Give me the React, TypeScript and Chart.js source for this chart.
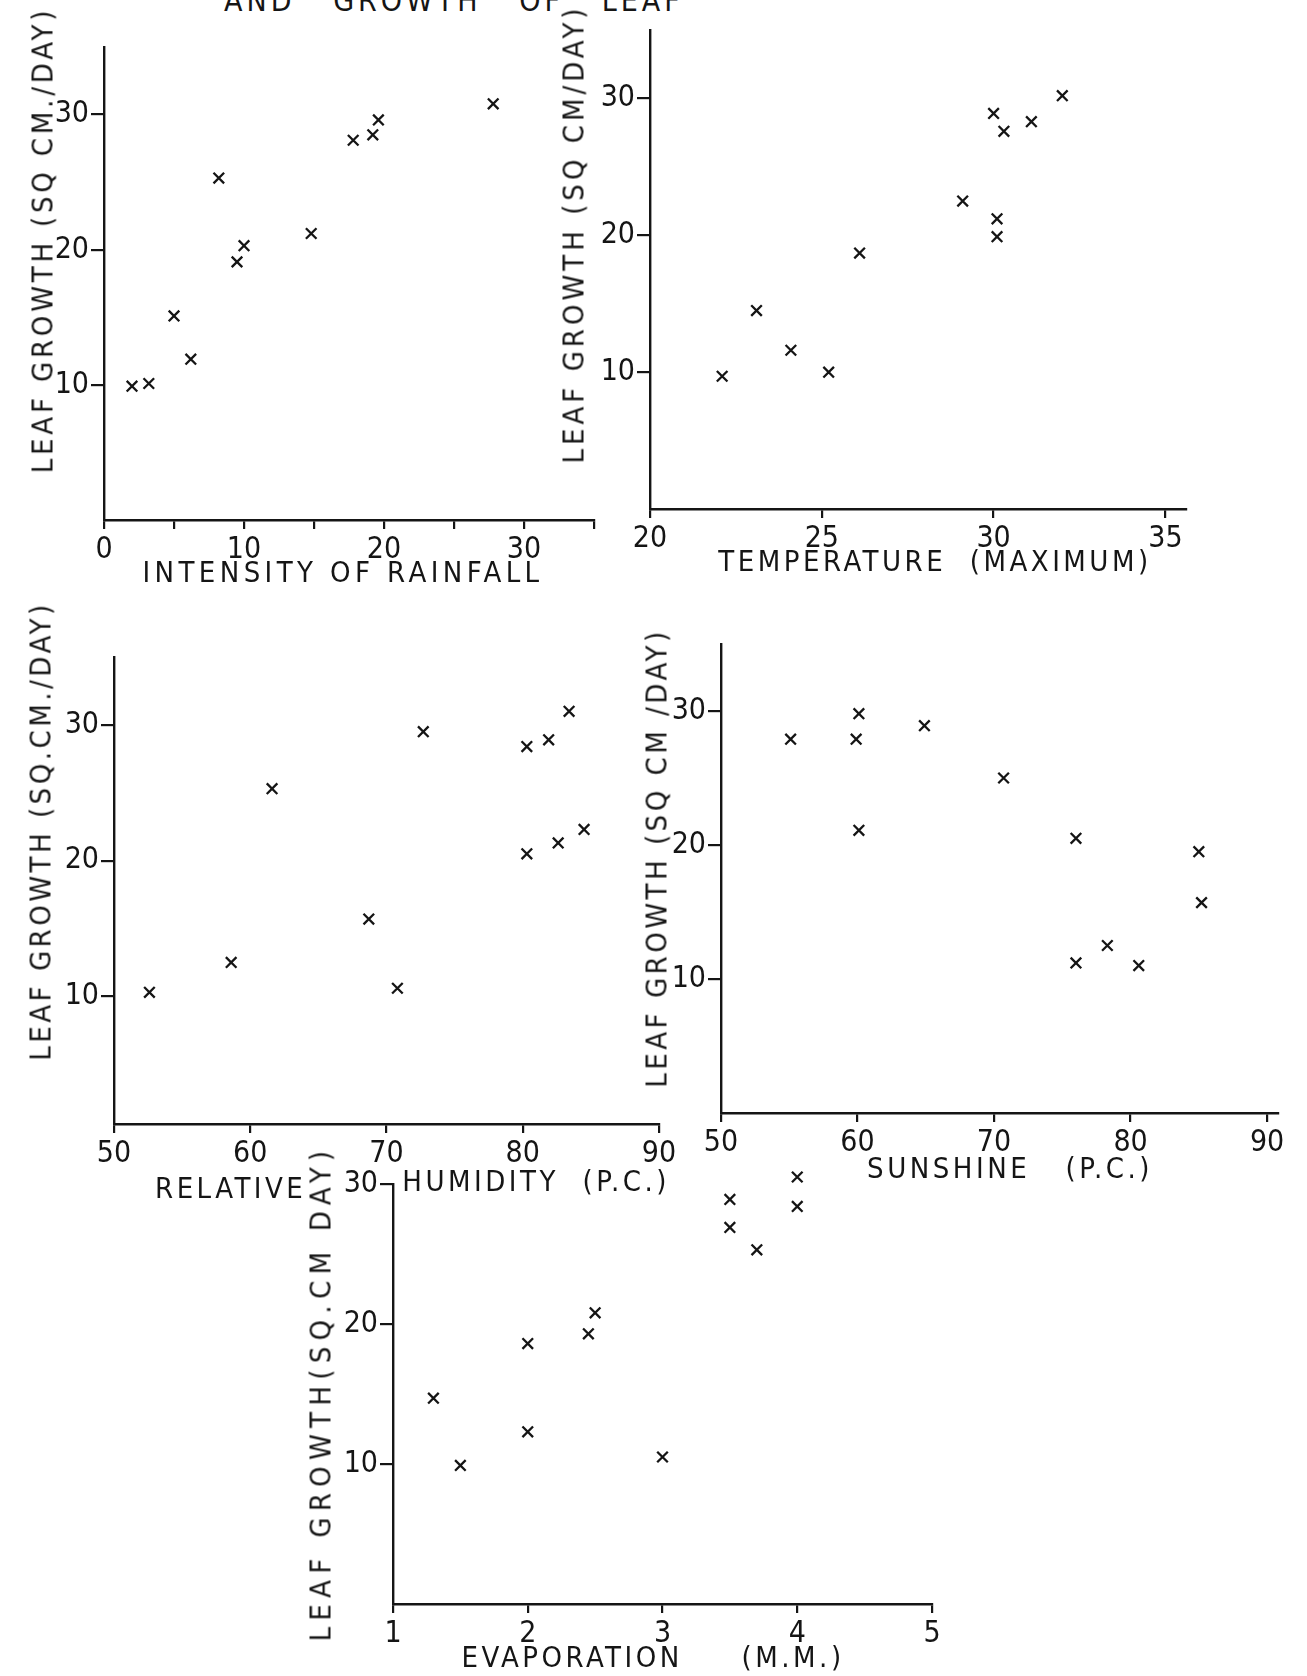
import React, { useEffect, useRef } from 'react';
import { Chart, registerables } from 'chart.js';

Chart.register(...registerables);

// ---------- DATA ----------
const rainfallX = [2.0, 3.2, 5.0, 6.2, 8.2, 9.5, 10.0, 14.8, 17.8, 19.2, 19.6, 27.8];
const rainfallY = [9.9, 10.1, 15.1, 11.9, 25.3, 19.1, 20.3, 21.2, 28.1, 28.5, 29.6, 30.8];

const temperatureX = [22.1, 23.1, 24.1, 25.2, 26.1, 29.1, 30.0, 30.3, 30.1, 30.1, 31.1, 32.0];
const temperatureY = [9.7, 14.5, 11.6, 10.0, 18.7, 22.5, 28.9, 27.6, 21.2, 19.9, 28.3, 30.2];

const humidityX = [52.6, 58.6, 61.6, 68.7, 70.8, 72.7, 80.3, 81.9, 83.4, 80.3, 82.6, 84.5];
const humidityY = [10.3, 12.5, 25.3, 15.7, 10.6, 29.5, 28.4, 28.9, 31.0, 20.5, 21.3, 22.3];

const sunshineX = [55.1, 59.9, 60.1, 64.9, 60.1, 70.7, 76.0, 76.0, 78.3, 80.6, 85.0, 85.2];
const sunshineY = [27.9, 27.9, 29.8, 28.9, 21.1, 25.0, 20.5, 11.2, 12.5, 11.0, 19.5, 15.7];

const evaporationX = [1.3, 1.5, 2.0, 2.0, 2.45, 2.5, 3.0, 3.5, 3.5, 3.7, 4.0, 4.0];
const evaporationY = [14.7, 9.9, 18.6, 12.3, 19.3, 20.8, 10.5, 28.9, 26.9, 25.3, 30.5, 28.4];

const growthTicks = [10, 20, 30];
const growthTickLabels = ['10', '20', '30'];

const rainfallTicks = [0, 5, 10, 15, 20, 25, 30, 35];
const rainfallTickLabels = ['0', '', '10', '', '20', '', '30', ''];
const temperatureTicks = [20, 25, 30, 35];
const temperatureTickLabels = ['20', '25', '30', '35'];
const humidityTicks = [50, 60, 70, 80, 90];
const humidityTickLabels = ['50', '60', '70', '80', '90'];
const sunshineTicks = [50, 60, 70, 80, 90];
const sunshineTickLabels = ['50', '60', '70', '80', '90'];
const evaporationTicks = [1, 2, 3, 4, 5];
const evaporationTickLabels = ['1', '2', '3', '4', '5'];

const headingText = 'AND   GROWTH   OF   LEAF';

// ---------- LAYOUT / STYLE ----------
const INK = '#151515';
const FONT = '"Liberation Sans Narrow", "DejaVu Sans Condensed", "Liberation Sans", "DejaVu Sans", sans-serif';
const WY = 80;
const HX = 60;
const PAD_T = 26;
const PAD_R = 34;

type PanelSpec = {
  xs: number[];
  ys: number[];
  xTicks: number[];
  xLabels: string[];
  xMin: number;
  xMax: number;
  yMin: number;
  yMax: number;
  area: { L: number; T: number; R: number; B: number };
  xTitle: React.ReactNode;
  xTitlePos: { x: number; y: number };
  xTitleSpacing?: number;
  yTitle: string;
  yTitlePos: { x: number; y: number };
  yTitleSpacing?: number;
};

const panels: PanelSpec[] = [
  {
    xs: rainfallX, ys: rainfallY, xTicks: rainfallTicks, xLabels: rainfallTickLabels,
    xMin: 0, xMax: 35, yMin: 0, yMax: 35,
    area: { L: 104, T: 46.7, R: 593.6, B: 519.9 },
    xTitle: 'INTENSITY OF RAINFALL', xTitlePos: { x: 343, y: 572 }, xTitleSpacing: 4.4,
    yTitle: 'LEAF GROWTH (SQ CM./DAY)', yTitlePos: { x: 43, y: 240 }, yTitleSpacing: 3.8,
  },
  {
    xs: temperatureX, ys: temperatureY, xTicks: temperatureTicks, xLabels: temperatureTickLabels,
    xMin: 20, xMax: 35.6, yMin: 0, yMax: 35,
    area: { L: 649.8, T: 29.9, R: 1185.5, B: 508.7 },
    xTitle: 'TEMPERATURE  (MAXIMUM)', xTitlePos: { x: 935, y: 561 },
    yTitle: 'LEAF GROWTH (SQ CM/DAY)', yTitlePos: { x: 574, y: 234 }, yTitleSpacing: 4,
  },
  {
    xs: humidityX, ys: humidityY, xTicks: humidityTicks, xLabels: humidityTickLabels,
    xMin: 50, xMax: 90, yMin: 0.6, yMax: 35,
    area: { L: 114.4, T: 656.7, R: 659.4, B: 1123.6 },
    xTitle: (
      <>
        <span>RELATIVE</span>
        <span style={{ marginLeft: 96, position: 'relative', top: -7 }}>HUMIDITY&nbsp;&nbsp;(P.C.)</span>
      </>
    ),
    xTitlePos: { x: 155, y: 1188 },
    yTitle: 'LEAF GROWTH (SQ.CM./DAY)', yTitlePos: { x: 41, y: 831 },
  },
  {
    xs: sunshineX, ys: sunshineY, xTicks: sunshineTicks, xLabels: sunshineTickLabels,
    xMin: 50, xMax: 90.8, yMin: 0, yMax: 35,
    area: { L: 720.6, T: 643.6, R: 1277.5, B: 1113 },
    xTitle: 'SUNSHINE   (P.C.)', xTitlePos: { x: 1010, y: 1168 },
    yTitle: 'LEAF GROWTH (SQ CM /DAY)', yTitlePos: { x: 657, y: 858 },
  },
  {
    xs: evaporationX, ys: evaporationY, xTicks: evaporationTicks, xLabels: evaporationTickLabels,
    xMin: 1, xMax: 5, yMin: 0, yMax: 30,
    area: { L: 393.3, T: 1184.1, R: 932.1, B: 1604.1 },
    xTitle: 'EVAPORATION     (M.M.)', xTitlePos: { x: 653, y: 1657 },
    yTitle: 'LEAF GROWTH(SQ.CM DAY)', yTitlePos: { x: 321, y: 1393 }, yTitleSpacing: 6.3,
  },
];

const titleStyle: React.CSSProperties = {
  position: 'absolute',
  fontFamily: FONT,
  fontSize: 29,
  letterSpacing: 3.5,
  color: INK,
  whiteSpace: 'pre',
  lineHeight: 1,
};

function Panel({ spec }: { spec: PanelSpec }) {
  const ref = useRef<HTMLCanvasElement | null>(null);
  const { area } = spec;
  const left = area.L - WY;
  const top = area.T - PAD_T;
  const width = Math.round(area.R - area.L + WY + PAD_R);
  const height = Math.round(area.B - area.T + PAD_T + HX);

  useEffect(() => {
    if (!ref.current) return;
    const chart = new Chart(ref.current, {
      type: 'scatter',
      data: {
        datasets: [
          {
            data: spec.xs.map((x, i) => ({ x, y: spec.ys[i] })),
            pointStyle: 'crossRot',
            pointRadius: 7.5,
            borderColor: INK,
            backgroundColor: INK,
            borderWidth: 2.3,
            clip: false,
          } as any,
        ],
      },
      options: {
        animation: false,
        responsive: false,
        maintainAspectRatio: false,
        devicePixelRatio: 1,
        layout: { padding: { top: PAD_T, right: PAD_R, left: 0, bottom: 0 } },
        plugins: { legend: { display: false }, tooltip: { enabled: false } },
        scales: {
          x: {
            type: 'linear',
            min: spec.xMin,
            max: spec.xMax,
            afterBuildTicks: (s: any) => {
              s.ticks = spec.xTicks.map((v) => ({ value: v }));
            },
            afterFit: (s: any) => {
              s.height = HX;
            },
            ticks: {
              autoSkip: false,
              maxRotation: 0,
              padding: 3,
              color: INK,
              font: { family: FONT, size: 30 },
              callback: (_v: any, i: number) => spec.xLabels[i],
            },
            grid: {
              display: true,
              drawOnChartArea: false,
              drawTicks: true,
              tickLength: 9,
              color: INK,
              lineWidth: 2.2,
            },
            border: { display: true, color: INK, width: 2.4 },
          },
          y: {
            type: 'linear',
            min: spec.yMin,
            max: spec.yMax,
            afterBuildTicks: (s: any) => {
              s.ticks = growthTicks.map((v) => ({ value: v }));
            },
            afterFit: (s: any) => {
              s.width = WY;
            },
            ticks: {
              autoSkip: false,
              padding: 2,
              color: INK,
              font: { family: FONT, size: 30 },
              callback: (_v: any, i: number) => growthTickLabels[i],
            },
            grid: {
              display: true,
              drawOnChartArea: false,
              drawTicks: true,
              tickLength: 13,
              color: INK,
              lineWidth: 2.2,
            },
            border: { display: true, color: INK, width: 2.4 },
          },
        },
      } as any,
    });
    return () => chart.destroy();
  }, [spec]);

  return (
    <>
      <canvas
        ref={ref}
        width={width}
        height={height}
        style={{ position: 'absolute', left, top, width, height }}
      />
      <div
        style={{
          ...titleStyle,
          letterSpacing: spec.xTitleSpacing ?? 3.5,
          left: spec.xTitlePos.x,
          top: spec.xTitlePos.y,
          transform: typeof spec.xTitle === 'string' ? 'translate(-50%, -50%)' : 'translate(0, -50%)',
        }}
      >
        {spec.xTitle}
      </div>
      <div
        style={{
          ...titleStyle,
          letterSpacing: spec.yTitleSpacing ?? 3.5,
          left: spec.yTitlePos.x,
          top: spec.yTitlePos.y,
          transform: 'translate(-50%, -50%) rotate(-90deg)',
        }}
      >
        {spec.yTitle}
      </div>
    </>
  );
}

export default function App() {
  return (
    <div
      style={{
        position: 'absolute',
        left: 0,
        top: 0,
        width: 1307,
        height: 1676,
        background: '#ffffff',
        overflow: 'hidden',
      }}
    >
      <div style={{ ...titleStyle, left: 224, top: -14, fontSize: 30, letterSpacing: 4 }}>{headingText}</div>
      {panels.map((p, i) => (
        <Panel key={i} spec={p} />
      ))}
    </div>
  );
}
